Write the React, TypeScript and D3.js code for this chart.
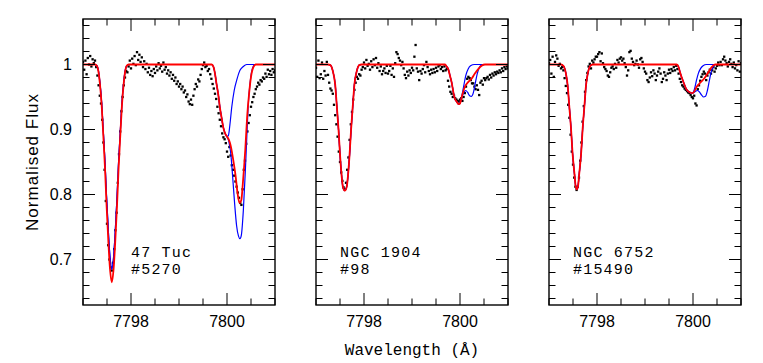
import React from "react";
import * as d3 from "d3";

// observed spectra: flux on a 0.025 A pixel grid starting at 7797.0 A
const waveStart = 7797.0;
const waveStep = 0.025;

const flux47Tuc = [
  1.004, 0.992, 1.006, 0.985, 1.01, 1.0, 1.013, 0.997, 1.008, 1.002,
  1.006, 0.996, 0.983, 0.968, 0.952, 0.94, 0.915, 0.88, 0.838, 0.79,
  0.755, 0.722, 0.7, 0.688, 0.683, 0.695, 0.716, 0.745, 0.772, 0.818,
  0.862, 0.897, 0.928, 0.95, 0.968, 0.98, 0.99, 0.988, 0.997, 1.006,
  0.994, 1.009, 1.001, 1.013, 0.999, 1.019, 1.007, 1.015, 1.004, 1.011,
  0.996, 1.005, 0.993, 1.001, 0.988, 0.995, 0.984, 0.99, 0.982, 0.993,
  0.987, 0.997, 0.991, 1.002, 0.994, 0.998, 0.989, 1.003, 0.992, 0.996,
  0.986, 0.991, 0.983, 0.988, 0.978, 0.984, 0.975, 0.98, 0.97, 0.974,
  0.966, 0.97, 0.962, 0.966, 0.957, 0.96, 0.95, 0.954, 0.943, 0.939,
  0.946, 0.938, 0.952, 0.962, 0.97, 0.966, 0.977, 0.974, 0.984, 0.993,
  0.999, 1.003, 0.996, 0.998, 0.99, 0.993, 0.985, 0.978, 0.97, 0.963,
  0.955, 0.947, 0.935, 0.925, 0.915, 0.905, 0.894, 0.888, 0.885, 0.879,
  0.866, 0.858, 0.873, 0.86, 0.845, 0.838, 0.829, 0.82, 0.812, 0.803,
  0.795, 0.787, 0.784, 0.808, 0.838, 0.852, 0.878, 0.897, 0.91, 0.922,
  0.935, 0.942, 0.95, 0.955, 0.962, 0.966, 0.972, 0.969, 0.976, 0.974,
  0.98, 0.978, 0.986, 0.981, 0.992, 0.985, 0.99, 0.984, 0.993, 0.988,
  0.991,
];

const fluxNgc1904 = [
  0.995, 0.981, 1.006, 0.979, 0.985, 1.003, 0.978, 0.99, 0.983, 1.004,
  0.984, 0.972, 0.963, 0.96, 0.955, 0.938, 0.922, 0.908, 0.889, 0.866,
  0.85, 0.834, 0.821, 0.811, 0.808, 0.818, 0.838, 0.857, 0.884, 0.908,
  0.927, 0.946, 0.961, 0.972, 0.981, 0.978, 0.985, 0.983, 0.992, 0.996,
  1.003, 0.994, 1.007, 0.998, 1.001, 0.992, 1.005, 0.996, 1.008, 0.999,
  1.01, 0.995, 1.002, 0.99, 0.997, 0.985, 0.99, 0.994, 0.987, 0.998,
  0.986, 0.99, 0.998, 0.984, 0.994, 0.981, 1.002, 1.019, 1.016, 1.01,
  1.006, 0.999, 1.004, 0.994, 0.984, 0.979, 0.989, 0.983, 0.991, 0.987,
  0.995, 0.991, 1.012, 1.03, 0.994, 0.989, 0.976, 0.99, 0.986, 0.993,
  0.999, 0.988, 1.004, 0.996, 0.99, 0.985, 0.992, 0.987, 0.993, 0.988,
  0.995, 0.99, 0.997, 0.999, 0.993, 0.996, 0.99, 0.997, 0.991, 0.993,
  0.975, 0.966, 0.958, 0.955, 0.95, 0.952, 0.948, 0.946, 0.944, 0.943,
  0.946, 0.948, 0.944, 0.95, 0.956, 0.966, 0.978, 0.981, 0.979, 0.976,
  0.971, 0.971, 0.966, 0.962, 0.968, 0.961, 0.953, 0.972, 0.975, 0.969,
  0.979, 0.976, 0.979, 0.981, 0.977, 0.984, 0.98, 0.986, 0.983, 0.988,
  0.985, 0.989, 0.987, 0.991, 0.988, 0.994, 0.99, 0.996, 0.993, 0.997,
  0.994,
];

const fluxNgc6752 = [
  1.002, 1.007, 0.986, 1.012, 0.981, 1.004, 1.014, 1.009, 0.998, 1.001,
  0.994, 0.996, 0.991, 0.979, 0.967, 0.956, 0.938, 0.918, 0.892, 0.866,
  0.846, 0.826, 0.812, 0.807, 0.812, 0.826, 0.852, 0.88, 0.912, 0.936,
  0.958, 0.976, 0.987, 0.997, 1.001, 0.994, 1.006, 1.003, 1.008, 1.012,
  1.012, 1.016, 1.019, 1.005, 1.017, 1.002, 0.996, 0.993, 0.99, 0.983,
  0.981, 0.988, 0.995, 0.997, 0.993, 1.001, 0.995, 1.007, 1.003, 1.009,
  1.011, 1.006, 1.009, 1.002, 0.996, 0.983, 0.991, 1.019, 1.021, 1.009,
  1.004, 0.999, 1.001, 1.006, 1.0, 0.995, 1.008, 1.01, 1.004, 0.994,
  0.989, 0.986, 0.976, 0.973, 0.98, 0.988, 0.982, 0.991, 0.986, 0.976,
  0.983, 0.989, 0.994, 0.986, 0.973, 0.978, 0.988, 0.983, 0.976, 0.986,
  0.992, 0.987, 0.993, 0.99, 0.996, 0.991, 0.998, 0.993, 0.986, 0.978,
  0.973, 0.968, 0.966, 0.963, 0.961, 0.959, 0.957, 0.956, 0.953, 0.95,
  0.948, 0.952, 0.94, 0.937, 0.962, 0.968, 0.975, 0.981, 0.985, 0.989,
  0.986, 0.976, 0.983, 0.988, 0.992, 0.986, 0.991, 0.996, 0.989, 0.994,
  0.998, 1.003, 0.999, 1.004, 0.999, 1.008, 1.012, 1.006, 1.002, 0.997,
  1.004, 1.008, 1.001, 0.996, 1.003, 0.994, 0.999, 0.991, 1.005, 0.989,
  1.002,
];

// synthetic fits [wavelength, flux]
const fit47Tuc: [number, number][] = [
  [7797.0, 1], [7797.25, 1], [7797.29, 0.998], [7797.32, 0.99], [7797.35, 0.972],
  [7797.39, 0.936], [7797.42, 0.895], [7797.46, 0.838], [7797.49, 0.785], [7797.53, 0.725],
  [7797.56, 0.688], [7797.6, 0.665], [7797.64, 0.688], [7797.67, 0.725], [7797.71, 0.785],
  [7797.74, 0.838], [7797.78, 0.895], [7797.81, 0.936], [7797.85, 0.972], [7797.88, 0.99],
  [7797.91, 0.998], [7797.95, 1], [7799.68, 1], [7799.72, 0.996], [7799.75, 0.986],
  [7799.78, 0.971], [7799.82, 0.953], [7799.85, 0.935], [7799.89, 0.917], [7799.92, 0.904],
  [7799.96, 0.894], [7800.0, 0.889], [7800.04, 0.884], [7800.08, 0.874], [7800.13, 0.853],
  [7800.18, 0.828], [7800.22, 0.802], [7800.26, 0.787], [7800.3, 0.792], [7800.33, 0.817],
  [7800.38, 0.868], [7800.42, 0.92], [7800.46, 0.955], [7800.5, 0.981], [7800.55, 0.996],
  [7800.6, 1], [7801.0, 1],
];
const alt47TucA: [number, number][] = [
  [7797.0, 1], [7797.25, 1], [7797.29, 0.998], [7797.32, 0.991], [7797.35, 0.974],
  [7797.39, 0.94], [7797.42, 0.901], [7797.46, 0.848], [7797.49, 0.798], [7797.53, 0.741],
  [7797.56, 0.706], [7797.6, 0.685], [7797.64, 0.706], [7797.67, 0.741], [7797.71, 0.798],
  [7797.74, 0.848], [7797.78, 0.901], [7797.81, 0.94], [7797.85, 0.974], [7797.88, 0.991],
  [7797.91, 0.998], [7797.95, 1], [7799.68, 1], [7799.72, 0.996], [7799.75, 0.986],
  [7799.78, 0.971], [7799.82, 0.953], [7799.85, 0.935], [7799.89, 0.917], [7799.92, 0.904],
  [7799.96, 0.894], [7800.0, 0.889], [7800.03, 0.891], [7800.06, 0.907], [7800.1, 0.935],
  [7800.15, 0.96], [7800.21, 0.978], [7800.27, 0.991], [7800.34, 0.997], [7800.41, 1],
  [7801.0, 1],
];
const alt47TucB: [number, number][] = [
  [7797.0, 1], [7797.25, 1], [7797.29, 0.998], [7797.32, 0.991], [7797.35, 0.974],
  [7797.39, 0.94], [7797.42, 0.901], [7797.46, 0.848], [7797.49, 0.798], [7797.53, 0.741],
  [7797.56, 0.706], [7797.6, 0.685], [7797.64, 0.706], [7797.67, 0.741], [7797.71, 0.798],
  [7797.74, 0.848], [7797.78, 0.901], [7797.81, 0.94], [7797.85, 0.974], [7797.88, 0.991],
  [7797.91, 0.998], [7797.95, 1], [7799.68, 1], [7799.72, 0.996], [7799.75, 0.986],
  [7799.78, 0.971], [7799.82, 0.953], [7799.85, 0.935], [7799.89, 0.917], [7799.92, 0.904],
  [7799.96, 0.894], [7800.0, 0.889], [7800.04, 0.881], [7800.08, 0.862], [7800.12, 0.825],
  [7800.16, 0.785], [7800.2, 0.752], [7800.24, 0.736], [7800.27, 0.732], [7800.3, 0.738],
  [7800.34, 0.775], [7800.38, 0.833], [7800.41, 0.884], [7800.44, 0.935], [7800.48, 0.971],
  [7800.53, 0.994], [7800.58, 1], [7801.0, 1],
];

const fitNgc1904: [number, number][] = [
  [7797.0, 1], [7797.25, 1], [7797.3, 0.999], [7797.35, 0.99], [7797.4, 0.969],
  [7797.43, 0.94], [7797.47, 0.899], [7797.5, 0.862], [7797.53, 0.832], [7797.56, 0.812],
  [7797.6, 0.806], [7797.64, 0.812], [7797.67, 0.832], [7797.7, 0.862], [7797.73, 0.899],
  [7797.77, 0.94], [7797.8, 0.969], [7797.85, 0.99], [7797.9, 0.999], [7797.95, 1],
  [7799.69, 1], [7799.72, 0.997], [7799.76, 0.992], [7799.79, 0.983], [7799.83, 0.971],
  [7799.86, 0.958], [7799.89, 0.948], [7799.93, 0.943], [7799.97, 0.939], [7800.0, 0.94],
  [7800.03, 0.948], [7800.07, 0.959], [7800.11, 0.967], [7800.17, 0.973], [7800.24, 0.978],
  [7800.31, 0.986], [7800.38, 0.993], [7800.45, 0.998], [7800.52, 1], [7801.0, 1],
];
const altNgc1904A: [number, number][] = [
  [7797.0, 1], [7797.25, 1], [7797.3, 0.999], [7797.35, 0.99], [7797.4, 0.969],
  [7797.43, 0.94], [7797.47, 0.899], [7797.5, 0.862], [7797.53, 0.832], [7797.56, 0.812],
  [7797.6, 0.806], [7797.64, 0.812], [7797.67, 0.832], [7797.7, 0.862], [7797.73, 0.899],
  [7797.77, 0.94], [7797.8, 0.969], [7797.85, 0.99], [7797.9, 0.999], [7797.95, 1],
  [7799.69, 1], [7799.72, 0.997], [7799.76, 0.992], [7799.79, 0.983], [7799.83, 0.971],
  [7799.86, 0.958], [7799.89, 0.948], [7799.93, 0.943], [7799.97, 0.939], [7800.0, 0.941],
  [7800.04, 0.952], [7800.08, 0.968], [7800.12, 0.983], [7800.17, 0.993], [7800.22, 0.998],
  [7800.3, 1], [7801.0, 1],
];
const altNgc1904B: [number, number][] = [
  [7797.0, 1], [7797.25, 1], [7797.3, 0.999], [7797.35, 0.99], [7797.4, 0.969],
  [7797.43, 0.94], [7797.47, 0.899], [7797.5, 0.862], [7797.53, 0.832], [7797.56, 0.812],
  [7797.6, 0.806], [7797.64, 0.812], [7797.67, 0.832], [7797.7, 0.862], [7797.73, 0.899],
  [7797.77, 0.94], [7797.8, 0.969], [7797.85, 0.99], [7797.9, 0.999], [7797.95, 1],
  [7799.69, 1], [7799.72, 0.997], [7799.76, 0.992], [7799.79, 0.983], [7799.83, 0.971],
  [7799.86, 0.958], [7799.89, 0.948], [7799.93, 0.943], [7799.97, 0.939], [7800.0, 0.941],
  [7800.04, 0.95], [7800.08, 0.957], [7800.12, 0.96], [7800.16, 0.957], [7800.2, 0.952],
  [7800.24, 0.951], [7800.28, 0.957], [7800.32, 0.972], [7800.36, 0.986], [7800.4, 0.995],
  [7800.45, 0.999], [7800.52, 1], [7801.0, 1],
];

const fitNgc6752: [number, number][] = [
  [7797.0, 1], [7797.25, 1], [7797.3, 0.998], [7797.35, 0.987], [7797.39, 0.967],
  [7797.42, 0.938], [7797.46, 0.9], [7797.49, 0.864], [7797.53, 0.832], [7797.555, 0.813],
  [7797.58, 0.808], [7797.605, 0.813], [7797.63, 0.832], [7797.67, 0.864], [7797.7, 0.9],
  [7797.74, 0.938], [7797.77, 0.967], [7797.81, 0.987], [7797.86, 0.998], [7797.91, 1],
  [7799.66, 1], [7799.7, 0.996], [7799.73, 0.988], [7799.8, 0.973], [7799.87, 0.961],
  [7799.94, 0.957], [7799.99, 0.956], [7800.03, 0.959], [7800.08, 0.966], [7800.15, 0.972],
  [7800.25, 0.98], [7800.32, 0.988], [7800.39, 0.996], [7800.46, 1], [7801.0, 1],
];
const altNgc6752A: [number, number][] = [
  [7797.0, 1], [7797.25, 1], [7797.3, 0.998], [7797.35, 0.987], [7797.39, 0.967],
  [7797.42, 0.938], [7797.46, 0.9], [7797.49, 0.864], [7797.53, 0.832], [7797.555, 0.813],
  [7797.58, 0.808], [7797.605, 0.813], [7797.63, 0.832], [7797.67, 0.864], [7797.7, 0.9],
  [7797.74, 0.938], [7797.77, 0.967], [7797.81, 0.987], [7797.86, 0.998], [7797.91, 1],
  [7799.66, 1], [7799.7, 0.996], [7799.73, 0.988], [7799.8, 0.973], [7799.87, 0.961],
  [7799.94, 0.957], [7799.99, 0.956], [7800.03, 0.962], [7800.07, 0.975], [7800.11, 0.986],
  [7800.16, 0.994], [7800.21, 0.998], [7800.28, 1], [7801.0, 1],
];
const altNgc6752B: [number, number][] = [
  [7797.0, 1], [7797.25, 1], [7797.3, 0.998], [7797.35, 0.987], [7797.39, 0.967],
  [7797.42, 0.938], [7797.46, 0.9], [7797.49, 0.864], [7797.53, 0.832], [7797.555, 0.813],
  [7797.58, 0.808], [7797.605, 0.813], [7797.63, 0.832], [7797.67, 0.864], [7797.7, 0.9],
  [7797.74, 0.938], [7797.77, 0.967], [7797.81, 0.987], [7797.86, 0.998], [7797.91, 1],
  [7799.66, 1], [7799.7, 0.996], [7799.73, 0.988], [7799.8, 0.973], [7799.87, 0.961],
  [7799.94, 0.957], [7799.99, 0.956], [7800.04, 0.958], [7800.09, 0.96], [7800.13, 0.958],
  [7800.18, 0.953], [7800.22, 0.95], [7800.26, 0.951], [7800.3, 0.96], [7800.34, 0.975],
  [7800.38, 0.989], [7800.42, 0.996], [7800.47, 1], [7801.0, 1],
];

const clusterNames = ["47 Tuc", "NGC 1904", "NGC 6752"];
const starIds = ["#5270", "#98", "#15490"];
const xTickLabels = [7798, 7800];
const yTickLabels = [0.7, 0.8, 0.9, 1];

const panels = [
  { flux: flux47Tuc, fit: fit47Tuc, alts: [alt47TucA, alt47TucB], labelWave: 7798.0 },
  { flux: fluxNgc1904, fit: fitNgc1904, alts: [altNgc1904A, altNgc1904B], labelWave: 7797.5 },
  { flux: fluxNgc6752, fit: fitNgc6752, alts: [altNgc6752A, altNgc6752B], labelWave: 7797.5 },
];

const W = 763;
const H = 363;
const panelLeft = [83, 316, 549];
const panelW = 192;
const panelTop = 19;
const panelH = 286;

const x = d3.scaleLinear().domain([7797, 7801]).range([0, panelW]);
const y = d3.scaleLinear().domain([0.63, 1.07]).range([panelH, 0]);

const line = d3
  .line<[number, number]>()
  .x((d) => x(d[0]))
  .y((d) => y(d[1]))
  .curve(d3.curveMonotoneX);

const xMinor = d3.range(0, 9).map((i) => 7797 + i * 0.5);
const yMinor = d3.range(0, 22).map((i) => +(0.64 + i * 0.02).toFixed(2));

const monoFont = "'Liberation Mono', 'DejaVu Sans Mono', monospace";
const sansFont = "'Liberation Sans', Arial, sans-serif";

function Panel({ idx }: { idx: number }) {
  const p = panels[idx];
  const clipId = `clip-${idx}`;
  return (
    <g transform={`translate(${panelLeft[idx]},${panelTop})`}>
      <defs>
        <clipPath id={clipId}>
          <rect x={0} y={0} width={panelW} height={panelH} />
        </clipPath>
      </defs>
      <g clipPath={`url(#${clipId})`}>
        {p.flux.map((f, i) => (
          <rect
            key={i}
            x={x(waveStart + i * waveStep) - 1.15}
            y={y(f) - 1.15}
            width={2.3}
            height={2.3}
            fill="#000"
          />
        ))}
        {p.alts.map((a, i) => (
          <path key={i} d={line(a) ?? ""} fill="none" stroke="#0000ff" strokeWidth={1.2} />
        ))}
        <path d={line(p.fit) ?? ""} fill="none" stroke="#ff0000" strokeWidth={1.8} />
      </g>
      {/* ticks on all four sides */}
      {xMinor.map((t) => {
        const major = xTickLabels.includes(t);
        const len = major ? 12 : 6.5;
        return (
          <g key={`xt${t}`} stroke="#000" strokeWidth={1}>
            <line x1={x(t)} x2={x(t)} y1={panelH} y2={panelH - len} />
            <line x1={x(t)} x2={x(t)} y1={0} y2={len} />
          </g>
        );
      })}
      {yMinor.map((t) => {
        const major = yTickLabels.some((v) => Math.abs(v - t) < 1e-6);
        const len = major ? 12 : 6.5;
        return (
          <g key={`yt${t}`} stroke="#000" strokeWidth={1}>
            <line x1={0} x2={len} y1={y(t)} y2={y(t)} />
            <line x1={panelW} x2={panelW - len} y1={y(t)} y2={y(t)} />
          </g>
        );
      })}
      <rect x={0} y={0} width={panelW} height={panelH} fill="none" stroke="#000" strokeWidth={1.4} />
      {xTickLabels.map((t) => (
        <text
          key={`xl${t}`}
          x={x(t)}
          y={panelH + 22}
          textAnchor="middle"
          fontFamily={sansFont}
          fontSize={16}
        >
          {t}
        </text>
      ))}
      {idx === 0 &&
        yTickLabels.map((t) => (
          <text
            key={`yl${t}`}
            x={-11}
            y={y(t)}
            dy="0.36em"
            textAnchor="end"
            fontFamily={sansFont}
            fontSize={16}
          >
            {t}
          </text>
        ))}
      <text
        x={x(p.labelWave)}
        y={y(0.7) - 3}
        fontFamily={monoFont}
        fontSize={15}
        letterSpacing={1.2}
      >
        {clusterNames[idx]}
      </text>
      <text
        x={x(p.labelWave)}
        y={y(0.7) + 14}
        fontFamily={monoFont}
        fontSize={15}
        letterSpacing={1.2}
      >
        {starIds[idx]}
      </text>
    </g>
  );
}

export default function App() {
  return (
    <svg
      width={W}
      height={H}
      viewBox={`0 0 ${W} ${H}`}
      style={{ position: "absolute", left: 0, top: 0, background: "#fff" }}
    >
      {panels.map((_, i) => (
        <Panel key={i} idx={i} />
      ))}
      <text
        transform="translate(38,162) rotate(-90)"
        textAnchor="middle"
        fontFamily={sansFont}
        fontSize={17}
        letterSpacing={1}
      >
        Normalised Flux
      </text>
      <text x={412} y={355} textAnchor="middle" fontFamily={monoFont} fontSize={16}>
        Wavelength (Å)
      </text>
    </svg>
  );
}
